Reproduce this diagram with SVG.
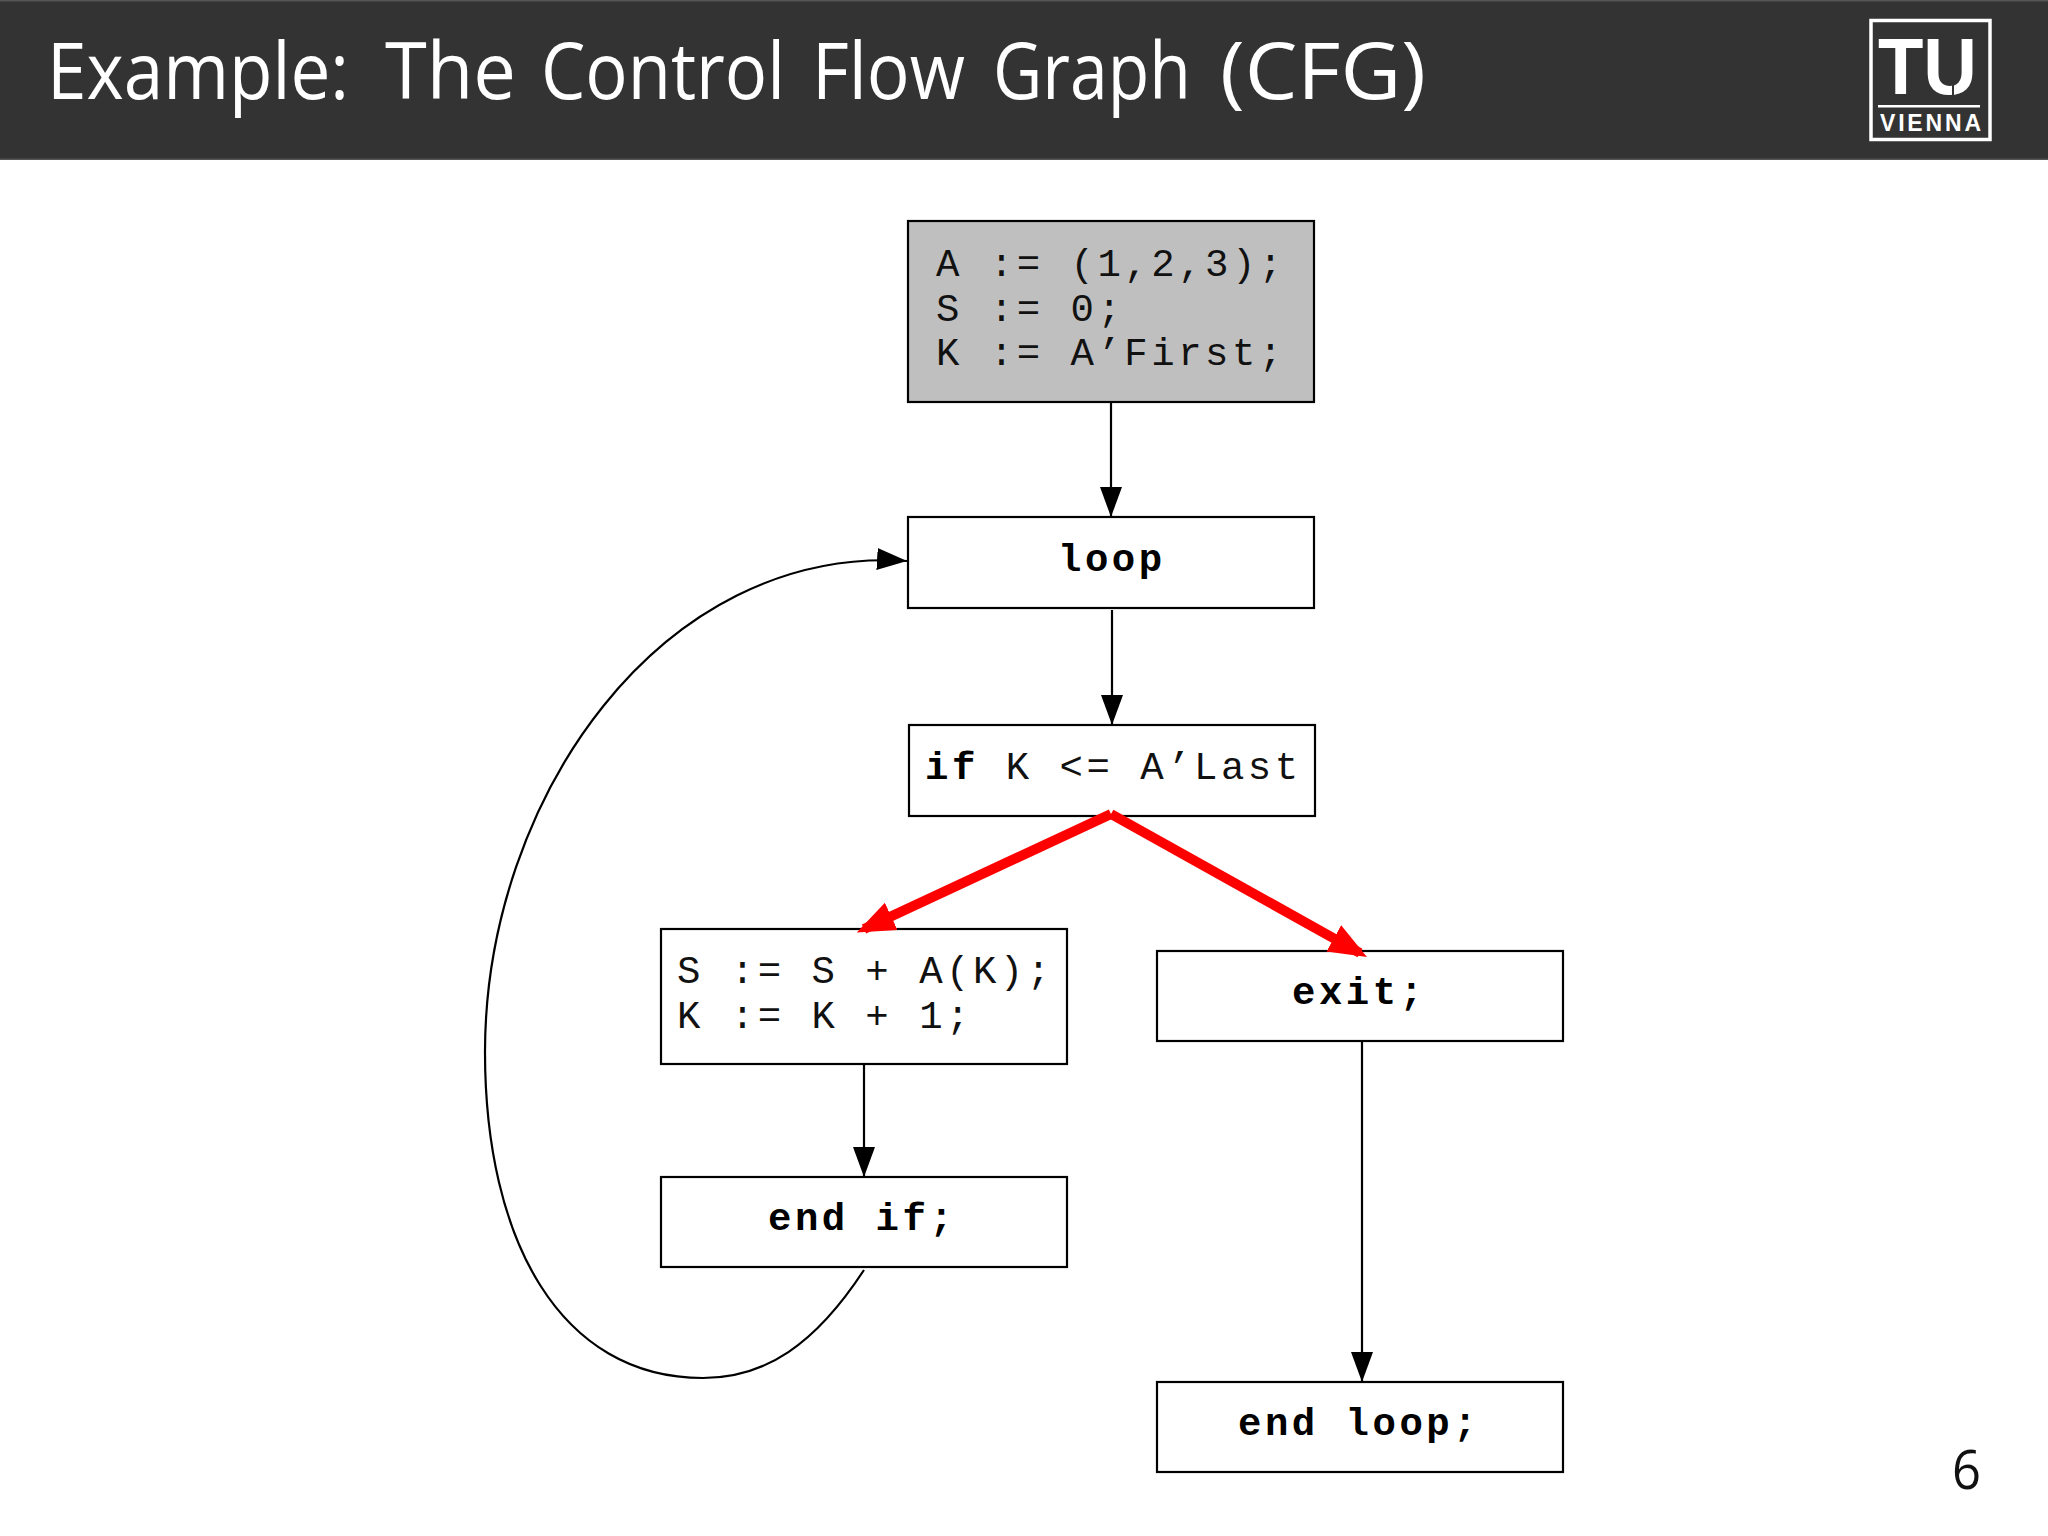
<svg xmlns="http://www.w3.org/2000/svg" width="2048" height="1536" viewBox="0 0 2048 1536">
<defs>
<marker id="ah" markerUnits="userSpaceOnUse" markerWidth="32" markerHeight="22" refX="30" refY="11" orient="auto"><path d="M0 0L30 11L0 22Z" fill="#000"/></marker>
<marker id="rh" markerUnits="userSpaceOnUse" markerWidth="40" markerHeight="32" refX="30" refY="16" orient="auto"><path d="M0 1L38 16L0 31Z" fill="#f00"/></marker>
</defs>
<style>
.n{fill:#fff;stroke:#000;stroke-width:2.2}
.t{font-family:"Liberation Mono",monospace;font-size:39px;letter-spacing:3.500px;fill:#111}
.b{font-weight:700;fill:#000}
.e{fill:none;stroke:#000;stroke-width:2.2}
.r{fill:none;stroke:#f00;stroke-width:10}
</style>
<rect width="2048" height="1536" fill="#fff"/>
<g id="header">
<rect width="2048" height="160" fill="#333"/>
<rect width="2048" height="1.500" fill="#555"/>
<rect y="158.500" width="2048" height="1.500" fill="#555"/>
<text y="99" font-family="'Open Sans',sans-serif" font-weight="400" font-size="78" fill="#fff" lengthAdjust="spacingAndGlyphs"><tspan x="47" textLength="302" lengthAdjust="spacingAndGlyphs">Example:</tspan> <tspan x="385" textLength="131" lengthAdjust="spacingAndGlyphs">The</tspan> <tspan x="541" textLength="244" lengthAdjust="spacingAndGlyphs">Control</tspan> <tspan x="812" textLength="153" lengthAdjust="spacingAndGlyphs">Flow</tspan> <tspan x="993" textLength="198" lengthAdjust="spacingAndGlyphs">Graph</tspan> <tspan x="1220" textLength="206" lengthAdjust="spacingAndGlyphs">(CFG)</tspan></text>
</g>
<g id="logo">
<rect x="1871" y="20.500" width="119" height="119" fill="none" stroke="#fff" stroke-width="3.500"/>
<text x="1878" y="94" font-family="'Liberation Sans',sans-serif" font-weight="700" font-size="80" fill="#fff" textLength="99" lengthAdjust="spacingAndGlyphs">TU</text>
<path d="M1947 76L1953 84V96" fill="none" stroke="#333" stroke-width="2"/>
<rect x="1878" y="105" width="102" height="2.500" fill="#fff"/>
<text x="1880" y="131" font-family="'Liberation Sans',sans-serif" font-weight="700" font-size="23" fill="#fff" textLength="101">VIENNA</text>
</g>
<g id="init"><rect class="n" style="fill:#bfbfbf" x="908" y="221" width="406" height="181"/>
<text class="t" x="936" y="276">A := (1,2,3);</text><text class="t" x="936" y="321">S := 0;</text><text class="t" x="936" y="365">K := A’First;</text></g>
<g id="loop"><rect class="n" x="908" y="517" width="406" height="91"/><text class="t b" x="1058" y="571">loop</text></g>
<g id="if"><rect class="n" x="909" y="725" width="406" height="91"/><text class="t" x="925" y="779"><tspan class="b">if</tspan> K &lt;= A’Last</text></g>
<g id="body"><rect class="n" x="661" y="929" width="406" height="135"/><text class="t" x="677" y="983">S := S + A(K);</text><text class="t" x="677" y="1028">K := K + 1;</text></g>
<g id="exit"><rect class="n" x="1157" y="951" width="406" height="90"/><text class="t b" x="1292" y="1004">exit;</text></g>
<g id="endif"><rect class="n" x="661" y="1177" width="406" height="90"/><text class="t b" x="768" y="1230">end if;</text></g>
<g id="endloop"><rect class="n" x="1157" y="1382" width="406" height="90"/><text class="t b" x="1238" y="1435">end loop;</text></g>
<g id="connectors">
<path class="e" d="M1111 402V517" marker-end="url(#ah)"/>
<path class="e" d="M1112 610V725" marker-end="url(#ah)"/>
<path class="r" d="M1111 814L864 929" marker-end="url(#rh)"/>
<path class="r" d="M1111 814L1360 953" marker-end="url(#rh)"/>
<path class="e" d="M864 1064V1177" marker-end="url(#ah)"/>
<path class="e" d="M1362 1041V1382" marker-end="url(#ah)"/>
<path class="e" d="M864 1270C815 1345 765 1378 703 1378C560 1378 485 1240 485 1052C485 800 660 545 907 561" marker-end="url(#ah)"/>
</g>
<text id="page" x="1952" y="1489" font-family="'Open Sans',sans-serif" font-weight="400" font-size="54" fill="#111" textLength="29" lengthAdjust="spacingAndGlyphs">6</text>
</svg>
